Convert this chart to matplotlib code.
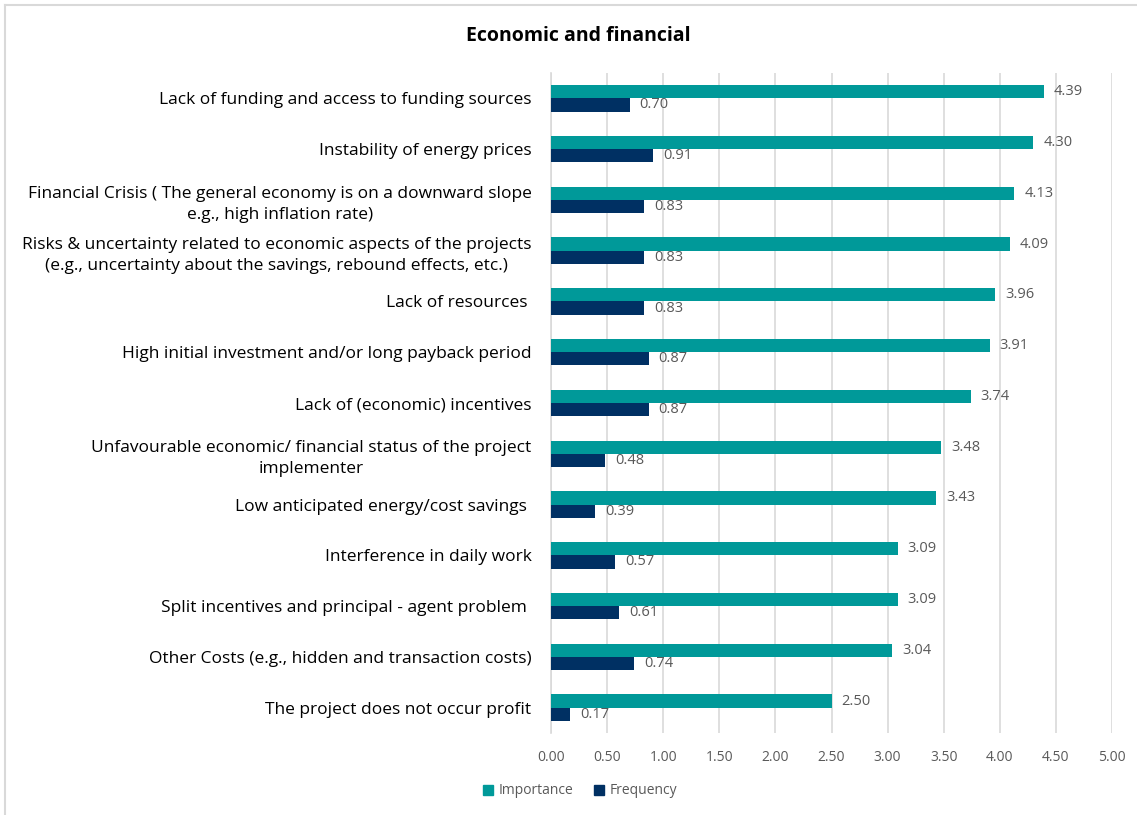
import matplotlib.pyplot as plt
from matplotlib.lines import Line2D
from matplotlib.patches import Patch

plt.rcParams['font.family'] = ['Open Sans', 'DejaVu Sans']

categories = [
    "Lack of funding and access to funding sources",
    "Instability of energy prices",
    "Financial Crisis ( The general economy is on a downward slope\ne.g., high inflation rate)",
    "Risks & uncertainty related to economic aspects of the projects\n(e.g., uncertainty about the savings, rebound effects, etc.)",
    "Lack of resources ",
    "High initial investment and/or long payback period",
    "Lack of (economic) incentives",
    "Unfavourable economic/ financial status of the project\nimplementer",
    "Low anticipated energy/cost savings ",
    "Interference in daily work",
    "Split incentives and principal - agent problem ",
    "Other Costs (e.g., hidden and transaction costs)",
    "The project does not occur profit",
]
importance = [4.39, 4.30, 4.13, 4.09, 3.96, 3.91, 3.74, 3.48, 3.43, 3.09, 3.09, 3.04, 2.50]
frequency = [0.70, 0.91, 0.83, 0.83, 0.83, 0.87, 0.87, 0.48, 0.39, 0.57, 0.61, 0.74, 0.17]
xticks = [0, 0.5, 1, 1.5, 2, 2.5, 3, 3.5, 4, 4.5, 5]

teal = '#009999'
navy = '#003063'
grey = '#595959'

fig = plt.figure(figsize=(11.37, 8.15), dpi=100)
# light frame on the left and top, like the cropped screenshot
fig.add_artist(Line2D([5 / 1137, 5 / 1137], [0, 1 - 5 / 815], transform=fig.transFigure,
                      color='#d9d9d9', linewidth=1.5))
fig.add_artist(Line2D([5 / 1137, 1], [1 - 5 / 815, 1 - 5 / 815], transform=fig.transFigure,
                      color='#d9d9d9', linewidth=1.5))
ax = fig.add_axes([551 / 1137, 1 - 733 / 815, (1112 - 551) / 1137, 660 / 815])

n = len(categories)
ypos = list(range(n))
h = 0.26
ax.barh([y - h / 2 for y in ypos], importance, height=h, color=teal, label='Importance', zorder=3)
ax.barh([y + h / 2 for y in ypos], frequency, height=h, color=navy, label='Frequency', zorder=3)

for y, v in zip(ypos, importance):
    ax.text(v + 0.09, y - h / 2, '%.2f' % v, va='center', ha='left', fontsize=10.5, color=grey)
for y, v in zip(ypos, frequency):
    ax.text(v + 0.09, y + h / 2, '%.2f' % v, va='center', ha='left', fontsize=10.5, color=grey)

ax.set_ylim(n - 0.5, -0.5)
ax.set_xlim(0, 5)
ax.set_yticks(ypos)
ax.set_yticklabels(categories, fontsize=12.5, multialignment='center', linespacing=1.45)
ax.set_xticks(xticks)
ax.set_xticklabels(['%.2f' % t for t in xticks], fontsize=10, color=grey)
ax.tick_params(axis='y', length=0, pad=14)
ax.tick_params(axis='x', length=0, pad=12)
ax.xaxis.grid(True, color='#d9d9d9', linewidth=1.2, zorder=0)
ax.set_axisbelow(True)
for s in ['top', 'right', 'bottom']:
    ax.spines[s].set_visible(False)
ax.spines['left'].set_color('#d9d9d9')
ax.spines['left'].set_linewidth(1.2)

fig.text(578 / 1137, 1 - 36 / 815, 'Economic and financial', ha='center', va='center',
         fontsize=14, fontweight='bold')

handles = [Patch(color=teal, label='Importance'), Patch(color=navy, label='Frequency')]
leg = fig.legend(handles=handles, loc='center', bbox_to_anchor=(580 / 1137, 1 - 791 / 815),
                 ncol=2, frameon=False, fontsize=10, handlelength=0.7, handleheight=0.7,
                 handletextpad=0.4, columnspacing=1.5)
for t in leg.get_texts():
    t.set_color(grey)

plt.savefig('out.png', dpi=100)
